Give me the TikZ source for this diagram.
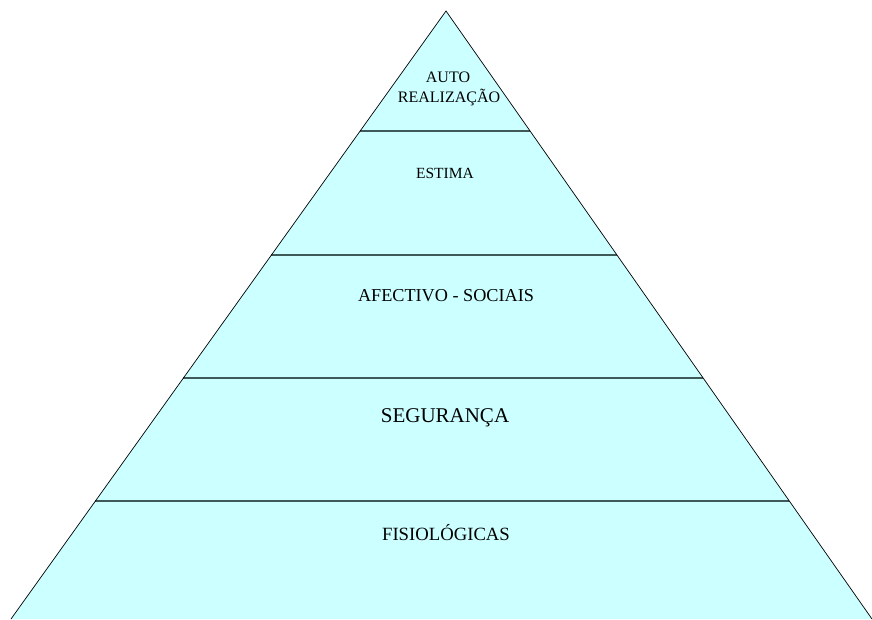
\documentclass[tikz,border=0pt]{standalone}
\usepackage{fontspec}
\setmainfont{Liberation Serif}
\definecolor{pyrfill}{HTML}{CCFFFF}
\definecolor{pyrline}{HTML}{3F5858}
\tikzset{
  lvl/.style={anchor=base,inner sep=0pt,font=\fontsize{#1}{#1}\selectfont},
}

\begin{document}
\begin{tikzpicture}[x=1pt,y=-1pt,declare function={topx=446;topy=11;lft=11;rgt=872;bot=619;}]
		\useasboundingbox (0,0) rectangle (872,619);
		\fill[pyrfill] (topx,topy)--(lft,bot)--(rgt,bot)--cycle;
		\foreach \h in {131,255,378,501}{
			\draw[pyrline,line width=1.7pt] ({topx+(lft-topx)/(bot-topy)*(\h-topy)},\h)--({topx+(rgt-topx)/(bot-topy)*(\h-topy)},\h);
		}
		\draw[line width=0.7pt] (lft,bot)--(topx,topy)--(rgt,bot);
		\node[lvl=16] (auto) at (448,82) {AUTO};
		\node[lvl=16] (realizacao) at (449,102) {REALIZAÇÃO};
		\node[lvl=15.5] (estima) at (445,178) {ESTIMA};
		\node[lvl=18.2] (afectivo) at (446,301) {AFECTIVO - SOCIAIS};
		\node[lvl=21] (seguranca) at (445,422) {SEGURANÇA};
		\node[lvl=18.7] (fisiologicas) at (446,540) {FISIOLÓGICAS};
	\end{tikzpicture}
\end{document}
